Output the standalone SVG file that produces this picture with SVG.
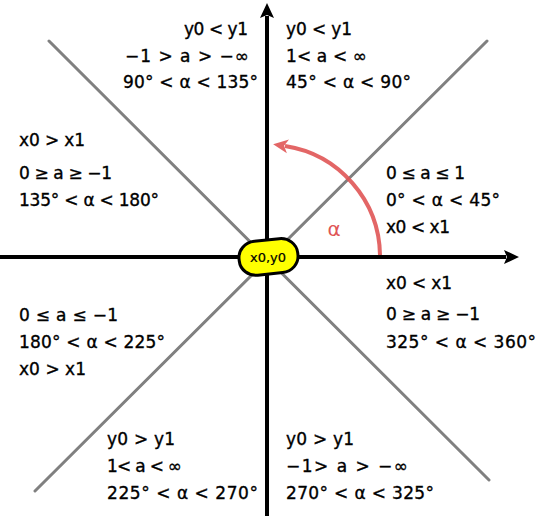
<svg xmlns="http://www.w3.org/2000/svg" width="538" height="516" viewBox="0 0 538 516">
<style>
.t{font-family:"DejaVu Sans",sans-serif;font-size:17px;fill:#000;stroke:#000;stroke-width:0.35}
.diag{stroke:#808080;stroke-width:3;fill:none;stroke-linecap:round}
.axis{stroke:#000;stroke-width:4;fill:none}
</style>
<defs>
<marker id="ah" viewBox="0 0 16 16" refX="2" refY="8" markerWidth="16" markerHeight="16" markerUnits="userSpaceOnUse" orient="auto">
<path d="M0,1 L15,8 L0,15 L3,8 Z" fill="#000"/>
</marker>
<marker id="rh" viewBox="0 0 16 16" refX="3" refY="8" markerWidth="16" markerHeight="16" markerUnits="userSpaceOnUse" orient="auto">
<path d="M0,1 L15,8 L0,15 L4,8 Z" fill="#e05555" fill-opacity="0.9"/>
</marker>
</defs>
<g id="connectors">
<line class="diag" x1="49" y1="41" x2="489" y2="480"/>
<line class="diag" x1="487" y1="41" x2="35" y2="491"/>
<line class="axis" x1="0" y1="257" x2="506" y2="257" marker-end="url(#ah)"/>
<line class="axis" x1="267" y1="516" x2="267" y2="16" marker-end="url(#ah)"/>
<path d="M380,255 A112,112 0 0 0 285,146" stroke="#e05555" stroke-opacity="0.9" stroke-width="4" fill="none" marker-end="url(#rh)"/>
</g>
<g id="origin">
<rect x="239" y="240" width="59" height="34" rx="17" ry="16" fill="#ffff00" stroke="#000" stroke-width="3" transform="rotate(-6 268 257)"/>
<text x="268" y="262" text-anchor="middle" style="font-family:'DejaVu Sans',sans-serif;font-size:13px;stroke:#000;stroke-width:0.2">x0,y0</text>
</g>
<g id="alpha-label">
<text x="334" y="236" text-anchor="middle" style="font-family:'DejaVu Sans',sans-serif;font-size:20px;fill:#e05555">α</text>
</g>
<g id="q-top-left">
<text class="t" x="184" y="35" textLength="64">y0 &lt; y1</text>
<text class="t" x="125" y="62" textLength="124">−1 &gt; a &gt; −∞</text>
<text class="t" x="123" y="88" textLength="135">90° &lt; α &lt; 135°</text>
</g>
<g id="q-top-right">
<text class="t" x="286" y="35" textLength="66">y0 &lt; y1</text>
<text class="t" x="286" y="62" textLength="81">1&lt; a &lt; ∞</text>
<text class="t" x="286" y="88" textLength="125">45° &lt; α &lt; 90°</text>
</g>
<g id="q-right">
<text class="t" x="386" y="179" textLength="79">0 ≤ a ≤ 1</text>
<text class="t" x="386" y="206" textLength="114">0° &lt; α &lt; 45°</text>
<text class="t" x="386" y="233" textLength="64">x0 &lt; x1</text>
</g>
<g id="q-left">
<text class="t" x="19" y="146" textLength="66">x0 &gt; x1</text>
<text class="t" x="19" y="179" textLength="93">0 ≥ a ≥ −1</text>
<text class="t" x="19" y="206" textLength="140">135° &lt; α &lt; 180°</text>
</g>
<g id="q-bottom-left">
<text class="t" x="19" y="321" textLength="99">0 ≤ a ≤  −1</text>
<text class="t" x="19" y="348" textLength="146">180° &lt; α &lt; 225°</text>
<text class="t" x="19" y="375" textLength="67">x0 &gt; x1</text>
</g>
<g id="q-bottom-right">
<text class="t" x="386" y="289" textLength="66">x0 &lt; x1</text>
<text class="t" x="386" y="320" textLength="94">0 ≥ a ≥ −1</text>
<text class="t" x="386" y="348" textLength="150">325° &lt; α &lt; 360°</text>
</g>
<g id="q-bottom-a">
<text class="t" x="107" y="445" textLength="68">y0 &gt; y1</text>
<text class="t" x="107" y="472" textLength="75">1&lt; a &lt; ∞</text>
<text class="t" x="107" y="499" textLength="151">225° &lt; α &lt; 270°</text>
</g>
<g id="q-bottom-b">
<text class="t" x="286" y="445" textLength="68">y0 &gt; y1</text>
<text class="t" x="286" y="472" textLength="122">−1&gt; a &gt; −∞</text>
<text class="t" x="286" y="499" textLength="148">270° &lt; α &lt; 325°</text>
</g>
</svg>
